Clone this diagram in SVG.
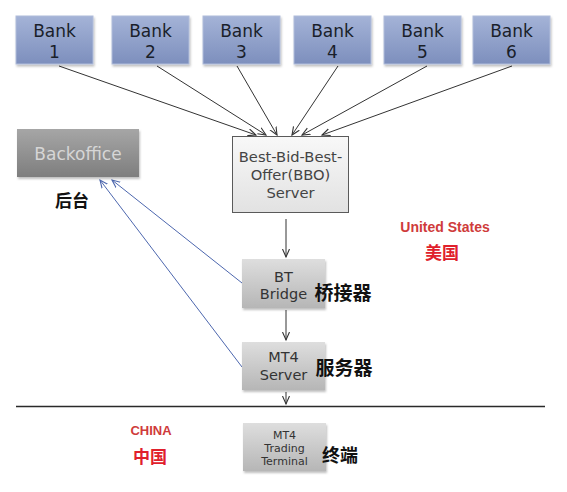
<svg xmlns="http://www.w3.org/2000/svg" width="567" height="492" viewBox="0 0 567 492">
<defs>
<style>
.lat{font-family:"DejaVu Sans","Liberation Sans",sans-serif;text-anchor:middle}
.bank{font-size:17px;fill:#1a1f2a}
.cjk{font-family:"Noto Sans CJK SC","Noto Sans",sans-serif;font-weight:bold}
.blk{stroke:#333;stroke-width:1;fill:none}
.blu{stroke:#4d67ae;stroke-width:1;fill:none}
.gtxt{font-size:14.5px;fill:#333}
</style>
<linearGradient id="gBank" x1="0" y1="0" x2="0" y2="1">
<stop offset="0" stop-color="#a4b3d7"/><stop offset="1" stop-color="#7d8fbd"/>
</linearGradient>
<linearGradient id="gGray" x1="0" y1="0" x2="0" y2="1">
<stop offset="0" stop-color="#dedede"/><stop offset="1" stop-color="#b6b6b6"/>
</linearGradient>
<linearGradient id="gBack" x1="0" y1="0" x2="0" y2="1">
<stop offset="0" stop-color="#a6a6a6"/><stop offset="1" stop-color="#7e7e7e"/>
</linearGradient>
<linearGradient id="gBBO" x1="0" y1="0" x2="0" y2="1">
<stop offset="0" stop-color="#f8f8f8"/><stop offset="1" stop-color="#e2e2e2"/>
</linearGradient>
<filter id="sh" x="-10%" y="-10%" width="125%" height="130%">
<feDropShadow dx="1" dy="2" stdDeviation="1.2" flood-color="#000" flood-opacity="0.25"/>
</filter>
<marker id="ah" markerWidth="10" markerHeight="10" refX="8" refY="4" orient="auto" markerUnits="userSpaceOnUse">
<path d="M0,0.5 L8,4 L0,7.5" fill="none" stroke="#333" stroke-width="1.1"/>
</marker>
<marker id="ahb" markerWidth="10" markerHeight="10" refX="8" refY="4" orient="auto" markerUnits="userSpaceOnUse">
<path d="M0,0.5 L8,4 L0,7.5" fill="none" stroke="#4d67ae" stroke-width="1.1"/>
</marker>
</defs>
<rect width="567" height="492" fill="#fff"/>

<g id="connectors">
<line class="blk" x1="59" y1="66" x2="256" y2="135" marker-end="url(#ah)"/>
<line class="blk" x1="157" y1="66" x2="266" y2="135" marker-end="url(#ah)"/>
<line class="blk" x1="237" y1="66" x2="277" y2="135" marker-end="url(#ah)"/>
<line class="blk" x1="338" y1="66" x2="292" y2="135" marker-end="url(#ah)"/>
<line class="blk" x1="427" y1="66" x2="302" y2="135" marker-end="url(#ah)"/>
<line class="blk" x1="512" y1="66" x2="322" y2="135" marker-end="url(#ah)"/>
<line class="blk" x1="286" y1="219" x2="286" y2="257" marker-end="url(#ah)"/>
<line class="blk" x1="286" y1="310" x2="286" y2="340" marker-end="url(#ah)"/>
<line class="blk" x1="286" y1="392" x2="286" y2="404" marker-end="url(#ah)"/>
<line class="blu" x1="242" y1="283" x2="112" y2="180" marker-end="url(#ahb)"/>
<line class="blu" x1="242" y1="367" x2="100" y2="180" marker-end="url(#ahb)"/>
<line x1="16" y1="406.5" x2="545" y2="406.5" stroke="#2a2a2a" stroke-width="1.3"/>
</g>

<g id="bank1"><rect x="16" y="16" width="77" height="48" fill="url(#gBank)" stroke="#b0bcda" stroke-width="1" filter="url(#sh)"/><text class="lat bank" x="54.5" y="37">Bank</text><text class="lat bank" x="54.5" y="58">1</text></g>
<g id="bank2"><rect x="112" y="16" width="77" height="48" fill="url(#gBank)" stroke="#b0bcda" stroke-width="1" filter="url(#sh)"/><text class="lat bank" x="150.5" y="37">Bank</text><text class="lat bank" x="150.5" y="58">2</text></g>
<g id="bank3"><rect x="203" y="16" width="77" height="48" fill="url(#gBank)" stroke="#b0bcda" stroke-width="1" filter="url(#sh)"/><text class="lat bank" x="241.5" y="37">Bank</text><text class="lat bank" x="241.5" y="58">3</text></g>
<g id="bank4"><rect x="294" y="16" width="77" height="48" fill="url(#gBank)" stroke="#b0bcda" stroke-width="1" filter="url(#sh)"/><text class="lat bank" x="332.5" y="37">Bank</text><text class="lat bank" x="332.5" y="58">4</text></g>
<g id="bank5"><rect x="384" y="16" width="77" height="48" fill="url(#gBank)" stroke="#b0bcda" stroke-width="1" filter="url(#sh)"/><text class="lat bank" x="422.5" y="37">Bank</text><text class="lat bank" x="422.5" y="58">5</text></g>
<g id="bank6"><rect x="473" y="16" width="77" height="48" fill="url(#gBank)" stroke="#b0bcda" stroke-width="1" filter="url(#sh)"/><text class="lat bank" x="511.5" y="37">Bank</text><text class="lat bank" x="511.5" y="58">6</text></g>

<g id="backoffice">
<rect x="17" y="129" width="122" height="48" fill="url(#gBack)" filter="url(#sh)"/>
<text class="lat" x="78" y="160" font-size="17" fill="#d6d6d6">Backoffice</text>
<text class="cjk" x="72" y="207" font-size="17" text-anchor="middle" fill="#111">后台</text>
</g>

<g id="bbo">
<rect x="232.5" y="136.5" width="116" height="76" fill="url(#gBBO)" stroke="#5a5a5a" stroke-width="1"/>
<text class="lat" x="290.5" y="162" font-size="14.7" fill="#444">Best-Bid-Best-</text>
<text class="lat" x="290.5" y="180" font-size="14.7" fill="#444">Offer(BBO)</text>
<text class="lat" x="290.5" y="198" font-size="14.7" fill="#444">Server</text>
</g>

<g id="btbridge">
<rect x="242" y="259" width="83" height="49" fill="url(#gGray)" filter="url(#sh)"/>
<text class="lat gtxt" x="283.5" y="282">BT</text>
<text class="lat gtxt" x="283.5" y="299">Bridge</text>
<text class="cjk" x="343" y="300" font-size="19" text-anchor="middle" fill="#111">桥接器</text>
</g>

<g id="mt4server">
<rect x="242" y="342" width="83" height="48" fill="url(#gGray)" filter="url(#sh)"/>
<text class="lat gtxt" x="283.5" y="362">MT4</text>
<text class="lat gtxt" x="283.5" y="380">Server</text>
<text class="cjk" x="344" y="375" font-size="19" text-anchor="middle" fill="#111">服务器</text>
</g>

<g id="terminal">
<rect x="243" y="423" width="83" height="48" fill="url(#gGray)" filter="url(#sh)"/>
<text class="lat" x="284.5" y="439" font-size="11" fill="#333">MT4</text>
<text class="lat" x="284.5" y="452" font-size="11" fill="#333">Trading</text>
<text class="lat" x="284.5" y="465" font-size="11" fill="#333">Terminal</text>
<text class="cjk" x="340" y="462" font-size="18" text-anchor="middle" fill="#111">终端</text>
</g>

<g id="regions">
<text x="445" y="232" font-family="Liberation Sans,Arial,sans-serif" font-weight="bold" font-size="14" text-anchor="middle" fill="#cf3b3b">United States</text>
<text class="cjk" x="442" y="259" font-size="17" text-anchor="middle" fill="#e0202c">美国</text>
<text x="151" y="435" font-family="Liberation Sans,Arial,sans-serif" font-weight="bold" font-size="13" text-anchor="middle" fill="#cf3b3b">CHINA</text>
<text class="cjk" x="150" y="463" font-size="17" text-anchor="middle" fill="#e0202c">中国</text>
</g>
</svg>
